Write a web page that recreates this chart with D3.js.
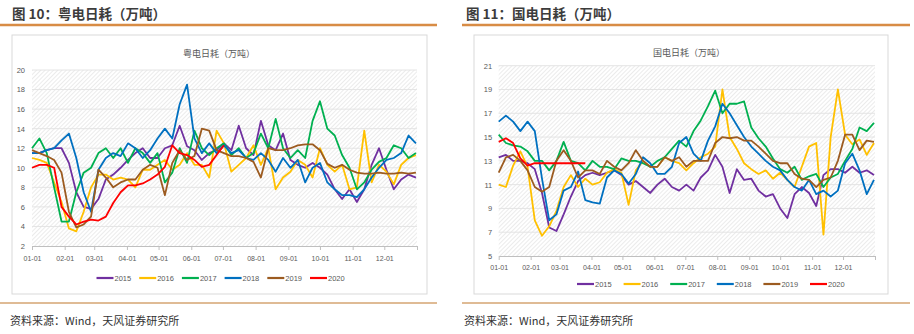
<!DOCTYPE html>
<html><head><meta charset="utf-8">
<script src="https://cdn.jsdelivr.net/npm/d3@7/dist/d3.min.js"></script>
<style>
body{margin:0;background:#fff;}
svg{display:block;font-family:"Liberation Sans",Arial,"Noto Sans CJK SC",sans-serif;}
</style>
</head><body>
<svg id="c" width="914" height="334"></svg>
<script>
// ---------- data ----------
const years = ["2015","2016","2017","2018","2019","2020"];
const colors = ["#7030A0","#FFC000","#00B050","#0070C0","#9C5B20","#FF0000"];
const monthDays = [0,31,59,90,120,151,181,212,243,273,304,334];
const monthLabels = ["01-01","02-01","03-01","04-01","05-01","06-01","07-01","08-01","09-01","10-01","11-01","12-01"];
const yueTicks = [2,4,6,8,10,12,14,16,18,20];
const guoTicks = [5,7,9,11,13,15,17,19,21];
const sampleStep = 7; // one reading per week (day of year = index * 7)

// 粤电日耗 (万吨), weekly readings
const yue2015 = [11.5,11.5,11.8,12.0,12.0,10.5,7.5,6.0,5.8,6.8, 8.8,9.3,10.0,10.8,11.5,12.0,11.0,11.0,12.0,12.3, 14.3,12.2,11.8,10.8,11.5,11.8,12.5,11.8,14.3,12.0, 11.3,14.8,12.3,11.8,13.5,10.8,10.3,10.0,10.5,10.0, 9.3,7.8,6.8,7.8,6.5,7.8,10.3,12.0,9.8,7.8, 8.8,9.3,9.0];
const yue2016 = [11.0,10.8,10.5,8.5,6.5,3.8,3.5,5.5,8.0,9.3, 9.3,8.8,9.0,8.8,8.0,9.8,9.8,10.3,10.8,9.8, 10.3,11.5,10.3,10.3,9.0,13.8,12.5,9.6,10.3,11.0, 12.3,10.3,12.0,7.8,9.0,9.6,10.8,10.3,9.0,12.0, 10.3,9.6,10.3,7.8,8.0,13.8,8.5,10.3,9.6,8.3, 10.3,11.0,11.3];
const yue2017 = [12.0,13.0,11.5,8.0,4.5,4.5,7.5,9.5,10.0,11.5, 12.0,11.0,12.0,10.5,12.0,11.5,10.5,11.5,8.5,9.5, 12.0,10.5,13.8,12.0,11.3,12.0,12.5,11.3,12.0,11.0, 11.5,13.5,12.0,15.0,12.0,11.0,11.8,11.0,14.8,16.8, 14.0,13.3,11.3,10.0,7.8,8.5,9.8,10.6,11.0,12.3, 12.0,11.0,11.5];
const yue2018 = [11.5,11.5,11.8,12.0,12.8,13.5,11.0,7.5,5.5,9.8, 11.0,11.5,11.2,12.5,12.0,11.0,11.8,13.0,14.0,13.0, 16.5,18.5,13.0,11.5,12.5,11.5,12.3,11.5,11.8,11.0, 10.8,11.5,10.8,9.6,11.0,10.0,10.8,8.5,10.0,10.5, 8.5,7.8,7.2,7.2,7.0,7.8,9.0,10.0,10.8,11.0, 11.5,13.3,12.5];
const yue2019 = [11.8,11.5,11.2,10.8,9.5,5.5,3.9,4.2,5.0,9.8, 9.0,8.0,8.5,8.8,8.8,9.8,10.3,10.0,7.2,10.5, 11.8,10.8,11.2,14.0,13.8,11.8,11.5,11.2,11.2,11.0, 10.6,9.0,12.0,11.8,11.8,12.0,12.3,12.4,12.4,11.8, 10.4,10.0,10.3,9.8,9.5,9.4,9.4,9.5,9.4,9.4, 9.5,9.4,9.5];
const yue2020 = [10.0,10.3,10.3,10.0,6.0,5.0,4.2,4.5,4.7,4.6, 5.0,6.4,7.5,8.2,8.2,8.4,8.8,9.3,10.1,12.3, 11.5,11.3,10.8,10.1,10.3,11.3,12.3];

// 国电日耗 (万吨), weekly readings
const guo2015 = [13.3,13.5,13.0,13.0,12.8,12.3,10.3,7.4,7.1,8.5, 10.0,11.3,11.8,12.0,11.8,12.0,12.2,11.8,11.0,11.3, 10.8,10.3,11.0,11.5,10.8,10.5,11.0,10.5,11.6,12.2, 13.5,12.5,10.3,12.3,11.4,11.5,10.5,10.0,10.2,9.0, 8.2,10.2,10.8,10.3,9.2,11.8,12.3,12.3,12.0,12.5, 12.0,12.2,11.8];
const guo2016 = [11.0,10.8,12.6,13.8,12.5,8.0,6.7,7.5,8.8,10.8, 11.8,10.8,11.5,11.0,11.2,12.0,12.3,12.0,9.3,12.2, 13.0,12.5,12.5,13.3,13.0,12.8,12.2,12.8,13.3,13.6, 14.2,19.0,15.0,14.0,12.8,12.3,11.9,12.2,11.5,12.0, 11.4,10.8,12.5,14.2,14.5,6.8,15.0,19.0,15.2,14.4, 14.8,13.5,14.5];
const guo2017 = [15.2,14.5,14.3,14.2,13.8,13.0,13.0,12.2,13.0,14.6, 13.0,12.8,12.2,13.0,12.5,12.5,12.3,13.2,13.0,13.0, 12.8,12.5,13.0,13.3,14.0,14.7,14.2,15.5,16.4,17.6, 18.9,17.0,17.8,17.8,18.0,15.8,14.9,14.2,13.2,12.3, 12.0,12.5,11.4,11.7,11.9,10.8,11.6,11.9,13.0,14.0, 15.8,15.5,16.2];
const guo2018 = [16.3,16.8,16.3,15.5,16.3,15.5,11.5,8.0,8.5,10.5, 10.8,12.1,9.7,9.5,9.4,11.6,12.2,11.9,11.1,11.9, 13.3,12.8,11.9,11.9,12.5,14.5,15.0,13.6,13.0,14.7, 15.9,17.8,17.0,16.0,15.0,14.2,13.6,13.0,12.5,12.2, 11.4,10.8,10.5,11.4,10.2,10.5,10.0,10.5,12.8,13.6, 12.2,10.2,11.4];
const guo2019 = [12.0,13.3,13.5,13.0,12.2,10.8,10.4,10.8,13.0,13.9, 13.0,11.6,12.2,12.2,11.9,13.0,12.5,12.2,12.8,13.9, 13.0,12.5,12.5,13.3,13.0,13.3,12.5,13.0,13.0,13.0, 14.5,15.0,14.9,15.0,14.7,14.7,14.2,13.6,13.0,12.8, 12.8,11.9,11.5,11.4,10.8,11.4,11.6,13.0,15.2,15.2, 13.9,14.7,14.6];
const guo2020 = [14.6,14.9,14.5,13.2,12.6,12.8,12.8,12.8,12.8,12.8, 12.8,12.8,12.8];

const yueSeries = [yue2015,yue2016,yue2017,yue2018,yue2019,yue2020];
const guoSeries = [guo2015,guo2016,guo2017,guo2018,guo2019,guo2020];

// ---------- drawing ----------
const svg = d3.select("#c");
const defs = svg.append("defs");
const pat = defs.append("pattern").attr("id","hatch").attr("patternUnits","userSpaceOnUse")
  .attr("width",3).attr("height",3).attr("patternTransform","rotate(45)");
pat.append("rect").attr("width",3).attr("height",3).attr("fill","#ffffff");
pat.append("line").attr("x1",0).attr("y1",0).attr("x2",0).attr("y2",3).attr("stroke","#dedede").attr("stroke-width",1.2);

const cjk = '"Noto Sans CJK SC","Liberation Sans",sans-serif';

function panel(cfg){
  const g = svg.append("g");
  g.append("text").attr("x",cfg.titleX).attr("y",19).text(cfg.title)
    .attr("font-family",cjk).attr("font-weight","bold").attr("font-size",13.5).attr("fill","#3c3c3c");
  g.append("line").attr("x1",cfg.lineX0).attr("x2",cfg.lineX1).attr("y1",25).attr("y2",25)
    .attr("stroke","#D88C45").attr("stroke-width",2.4);
  g.append("line").attr("x1",cfg.lineX0).attr("x2",cfg.lineX1).attr("y1",303).attr("y2",303)
    .attr("stroke","#D4A472").attr("stroke-width",1.4);
  g.append("text").attr("x",cfg.titleX-2).attr("y",325).text("资料来源：Wind，天风证券研究所")
    .attr("font-family",cjk).attr("font-size",11).attr("fill","#333");
  g.append("rect").attr("x",cfg.box[0]).attr("y",cfg.box[1]).attr("width",cfg.box[2]).attr("height",cfg.box[3])
    .attr("fill","#fff").attr("stroke","#d9d9d9").attr("stroke-width",1);
  g.append("text").attr("x",cfg.ctX).attr("y",cfg.ctY).attr("text-anchor","middle").text(cfg.chartTitle)
    .attr("font-family",cjk).attr("font-size",9).attr("fill","#595959");

  const x = d3.scaleLinear().domain([0,365]).range([cfg.px0,cfg.px1]);
  const y = d3.scaleLinear().domain(cfg.yDomain).range([cfg.py1,cfg.py0]);

  g.append("rect").attr("x",cfg.px0).attr("y",cfg.py0).attr("width",cfg.px1-cfg.px0).attr("height",cfg.py1-cfg.py0)
    .attr("fill","url(#hatch)");
  g.append("g").selectAll("line").data(cfg.yTicks.slice(1)).join("line")
    .attr("x1",cfg.px0).attr("x2",cfg.px1).attr("y1",d=>y(d)).attr("y2",d=>y(d))
    .attr("stroke","#e4e4e4").attr("stroke-width",1);

  const xa = g.append("g").attr("transform",`translate(0,${cfg.py1})`)
    .call(d3.axisBottom(x).tickValues(monthDays.concat([365])).tickSize(4).tickSizeOuter(0).tickPadding(cfg.xPad)
      .tickFormat(d=>{const k=monthDays.indexOf(d);return k>=0?monthLabels[k]:"";}));
  xa.select(".domain").attr("stroke","#bfbfbf");
  xa.selectAll(".tick line").attr("stroke","#bfbfbf");
  xa.selectAll("text").attr("fill","#595959").attr("font-size",7).attr("font-family","Liberation Sans,Arial");

  const ya = g.append("g").attr("transform",`translate(${cfg.px0},0)`)
    .call(d3.axisLeft(y).tickValues(cfg.yTicks).tickSize(0).tickPadding(cfg.yPad));
  ya.select(".domain").remove();
  ya.selectAll("text").attr("fill","#595959").attr("font-size",7.5).attr("font-family","Liberation Sans,Arial");

  const line = d3.line().x((d,i)=>x(i*sampleStep)).y(d=>y(d)).curve(d3.curveLinear);
  cfg.series.forEach((s,k)=>{
    g.append("path").datum(s).attr("d",line).attr("fill","none")
      .attr("stroke",colors[k]).attr("stroke-width",1.8).attr("stroke-linejoin","round");
  });

  years.forEach((yr,k)=>{
    const tx = cfg.legX + k*cfg.legStep;
    g.append("line").attr("x1",tx-18).attr("x2",tx-1).attr("y1",cfg.legY).attr("y2",cfg.legY)
      .attr("stroke",colors[k]).attr("stroke-width",2.2);
    g.append("text").attr("x",tx).attr("y",cfg.legY+2.6).text(yr)
      .attr("font-size",7.5).attr("fill","#595959");
  });
}

panel({
  title:"图 10：粤电日耗（万吨）", titleX:12, lineX0:0, lineX1:437,
  box:[12,35,415,259], chartTitle:"粤电日耗（万吨）", ctX:219, ctY:57,
  px0:32, px1:417, py0:70, py1:246, yDomain:[2,20], yTicks:yueTicks, xPad:6, yPad:7,
  series:yueSeries, legX:114.5, legStep:42.7, legY:278
});
panel({
  title:"图 11：国电日耗（万吨）", titleX:466, lineX0:462, lineX1:910,
  box:[474,35,414,259], chartTitle:"国电日耗（万吨）", ctX:689, ctY:56,
  px0:498.7, px1:875, py0:65.7, py1:256, yDomain:[5,21], yTicks:guoTicks, xPad:5, yPad:6.5,
  series:guoSeries, legX:595, legStep:46.6, legY:284
});
</script>
</body></html>
